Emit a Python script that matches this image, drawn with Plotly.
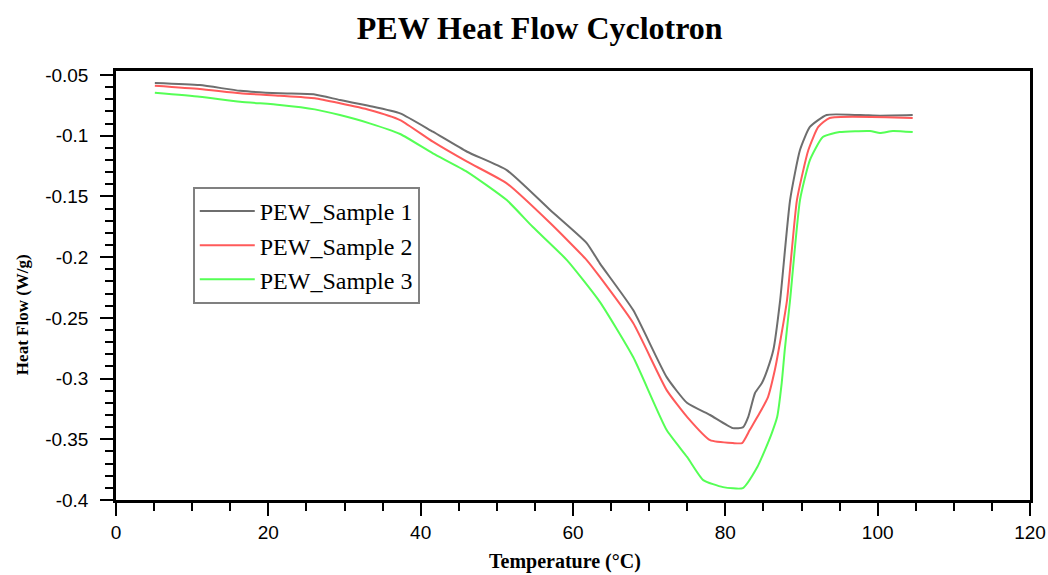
import plotly.graph_objects as go

# Temperature (°C) and heat flow (W/g)
temp_1 = [5.1, 11.0, 16.3, 21.5, 26.1, 29.4, 33.3, 37.3, 41.6, 46.1, 51.3, 57.0, 61.8,
          63.5, 67.9, 72.3, 75.0, 78.0, 81.0, 82.3, 83.0, 83.9, 84.8, 85.5, 86.3, 87.2,
          88.5, 89.8, 91.1, 93.3, 97.7, 100.3, 104.6]
flow_1 = [-0.0566, -0.0583, -0.0630, -0.0651, -0.0660, -0.0706, -0.0755, -0.0816, -0.0967,
          -0.1132, -0.1283, -0.1612, -0.1884, -0.2049, -0.2436, -0.2988, -0.3202, -0.3300,
          -0.3408, -0.3402, -0.3317, -0.3119, -0.3037, -0.2930, -0.2765, -0.2353, -0.1530,
          -0.1118, -0.0928, -0.0829, -0.0830, -0.0835, -0.0830]

temp_2 = [5.1, 11.0, 16.3, 21.5, 26.1, 29.4, 33.3, 37.3, 41.6, 46.1, 51.3, 57.0, 61.8,
          63.5, 67.9, 72.3, 75.0, 78.0, 81.0, 82.2, 83.2, 84.5, 85.6, 86.5, 87.0, 88.1,
          89.4, 90.9, 92.2, 93.7, 104.6]
flow_2 = [-0.0588, -0.0615, -0.0651, -0.0671, -0.0692, -0.0733, -0.0788, -0.0871, -0.1049,
          -0.1214, -0.1392, -0.1719, -0.2024, -0.2161, -0.2543, -0.3095, -0.3317, -0.3507,
          -0.3531, -0.3531, -0.3424, -0.3284, -0.3152, -0.2930, -0.2765, -0.2353, -0.1530,
          -0.1118, -0.0928, -0.0854, -0.0855]

temp_3 = [5.1, 11.0, 16.3, 21.5, 26.1, 29.4, 33.3, 37.3, 41.6, 46.1, 51.3, 54.7, 59.2,
          63.5, 67.9, 72.3, 75.0, 77.1, 79.7, 82.3, 84.2, 85.2, 86.1, 86.8, 87.4, 87.8,
          88.5, 89.8, 91.1, 92.8, 95.0, 99.0, 100.3, 102.0, 104.6]
flow_3 = [-0.0646, -0.0679, -0.0720, -0.0747, -0.0783, -0.0830, -0.0898, -0.0986, -0.1145,
          -0.1297, -0.1530, -0.1750, -0.2024, -0.2366, -0.2823, -0.3424, -0.3647, -0.3836,
          -0.3894, -0.3902, -0.3729, -0.3589, -0.3449, -0.3317, -0.3037, -0.2765, -0.2353,
          -0.1530, -0.1200, -0.1011, -0.0970, -0.0961, -0.0978, -0.0961, -0.0970]

names = ["PEW_Sample 1", "PEW_Sample 2", "PEW_Sample 3"]
colors = ["#6e6e6e", "#ff5a5a", "#55ff55"]

# tick labels (reference uses a plain hyphen for the minus sign)
x_ticks = [0, 20, 40, 60, 80, 100, 120]
x_labels = ["0", "20", "40", "60", "80", "100", "120"]
y_ticks = [-0.05, -0.1, -0.15, -0.2, -0.25, -0.3, -0.35, -0.4]
y_labels = ["-0.05", "-0.1", "-0.15", "-0.2", "-0.25", "-0.3", "-0.35", "-0.4"]

serif = "Liberation Serif, Times New Roman, serif"
sans = "Liberation Sans, Arial, sans-serif"

fig = go.Figure()
for t, f, n, c in zip([temp_1, temp_2, temp_3], [flow_1, flow_2, flow_3], names, colors):
    fig.add_trace(go.Scatter(x=t, y=f, mode="lines", name=n,
                             line=dict(color=c, width=2, shape="spline", smoothing=0.5)))

fig.update_layout(
    width=1048, height=575,
    paper_bgcolor="white", plot_bgcolor="white",
    margin=dict(l=116, r=18, t=71, b=75),
    title=dict(text="<b>PEW Heat Flow Cyclotron</b>", x=0.515, xanchor="center",
               y=0.951, yanchor="middle", font=dict(family=serif, size=32, color="black")),
    legend=dict(x=0.084, y=0.73, xanchor="left", yanchor="top",
                bgcolor="white", bordercolor="#808080", borderwidth=2,
                font=dict(family=serif, size=24, color="black"),
                tracegroupgap=0, itemwidth=55),
    showlegend=True,
)

fig.update_xaxes(
    range=[0, 120], tickvals=x_ticks, ticktext=x_labels, automargin=False,
    showgrid=False, zeroline=False,
    showline=True, linecolor="black", linewidth=2.5, mirror=True,
    ticks="outside", ticklen=13, tickwidth=2, tickcolor="black",
    minor=dict(dtick=5, tick0=0, ticks="outside", ticklen=8, tickwidth=2, tickcolor="black"),
    tickfont=dict(family=sans, size=19, color="black"),
)
fig.update_yaxes(
    range=[-0.4, -0.0467], tickvals=y_ticks, ticktext=y_labels, automargin=False,
    showgrid=False, zeroline=False,
    showline=True, linecolor="black", linewidth=2.5, mirror=True,
    ticks="outside", ticklen=13, tickwidth=2, tickcolor="black", ticklabelstandoff=8,
    minor=dict(dtick=0.01, tick0=-0.4, ticks="outside", ticklen=8, tickwidth=2, tickcolor="black"),
    tickfont=dict(family=sans, size=19, color="black"),
)

# axis titles as annotations to place them like the reference
fig.add_annotation(text="<b>Temperature (°C)</b>", xref="paper", yref="paper",
                   x=0.491, y=-0.1445, xanchor="center", yanchor="middle", showarrow=False,
                   font=dict(family=serif, size=20, color="black"))
fig.add_annotation(text="<b>Heat Flow (W/g)</b>", xref="paper", yref="paper",
                   x=-0.1028, y=0.431, xanchor="center", yanchor="middle", showarrow=False,
                   textangle=-90, font=dict(family=serif, size=17, color="black"))

# drop the browser's default body margin so the figure fills the window exactly
fig.write_html("out.html", config={"displayModeBar": False},
               post_script="document.body.style.margin = '0';")
